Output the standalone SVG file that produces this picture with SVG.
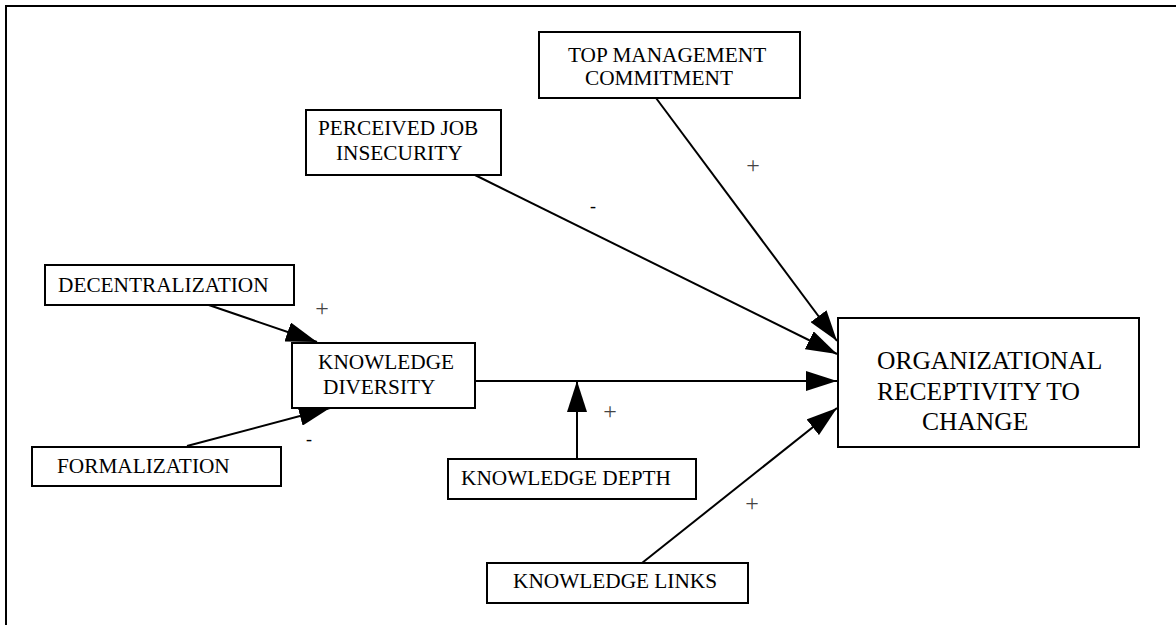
<svg xmlns="http://www.w3.org/2000/svg" width="1176" height="625" viewBox="0 0 1176 625">
<style>
.box{fill:#fff;stroke:#000;stroke-width:2}
.t{font-family:"Liberation Serif","Times New Roman",serif;font-size:21.3px;fill:#000}
.big{font-size:25.5px}
.sign{font-family:"Liberation Serif","Times New Roman",serif;font-size:24px;fill:#444;text-anchor:middle}
.minus{font-size:18px;fill:#000}
.c{stroke:#000;stroke-width:2;fill:none;marker-end:url(#ah)}
</style>
<defs>
<marker id="ah" markerUnits="userSpaceOnUse" markerWidth="32" markerHeight="20" refX="31" refY="10" orient="auto" viewBox="0 0 32 20">
<path d="M0,0 L31,10 L0,20 z" fill="#000"/>
</marker>
</defs>
<rect width="1176" height="625" fill="#fff"/>
<path d="M6,625 V6 H1176" fill="none" stroke="#000" stroke-width="2"/>
<g id="connectors">
<line class="c" x1="200" y1="302" x2="317" y2="342"/>
<line class="c" x1="187" y1="446" x2="330" y2="408"/>
<line class="c" x1="475" y1="381" x2="837" y2="381"/>
<line class="c" x1="577" y1="460" x2="577" y2="381"/>
<line class="c" x1="642" y1="563" x2="837" y2="408"/>
<line class="c" x1="475" y1="175" x2="837" y2="354"/>
<line class="c" x1="656" y1="98" x2="837" y2="341"/>
<text class="sign" x="322" y="316">+</text>
<text class="sign minus" x="309" y="445">-</text>
<text class="sign" x="610" y="419">+</text>
<text class="sign" x="752" y="511">+</text>
<text class="sign" x="753" y="173">+</text>
<text class="sign minus" x="593" y="212">-</text>
</g>
<g id="top-management">
<rect class="box" x="539" y="32" width="261" height="66"/>
<text class="t" x="568" y="62">TOP MANAGEMENT</text>
<text class="t" x="585" y="85">COMMITMENT</text>
</g>
<g id="perceived-job-insecurity">
<rect class="box" x="306" y="110" width="195" height="65"/>
<text class="t" x="318" y="135">PERCEIVED JOB</text>
<text class="t" x="336" y="160">INSECURITY</text>
</g>
<g id="decentralization">
<rect class="box" x="45" y="265" width="249" height="40"/>
<text class="t" x="58" y="292">DECENTRALIZATION</text>
</g>
<g id="knowledge-diversity">
<rect class="box" x="292" y="343" width="183" height="65"/>
<text class="t" x="318" y="369">KNOWLEDGE</text>
<text class="t" x="323" y="394">DIVERSITY</text>
</g>
<g id="formalization">
<rect class="box" x="32" y="447" width="249" height="39"/>
<text class="t" x="57" y="473">FORMALIZATION</text>
</g>
<g id="knowledge-depth">
<rect class="box" x="448" y="459" width="248" height="40"/>
<text class="t" x="461" y="485">KNOWLEDGE DEPTH</text>
</g>
<g id="knowledge-links">
<rect class="box" x="487" y="563" width="261" height="40"/>
<text class="t" x="513" y="588">KNOWLEDGE LINKS</text>
</g>
<g id="organizational-receptivity">
<rect class="box" x="838" y="318" width="301" height="129"/>
<text class="t big" x="877" y="369">ORGANIZATIONAL</text>
<text class="t big" x="877" y="400">RECEPTIVITY TO</text>
<text class="t big" x="922" y="430">CHANGE</text>
</g>
</svg>
